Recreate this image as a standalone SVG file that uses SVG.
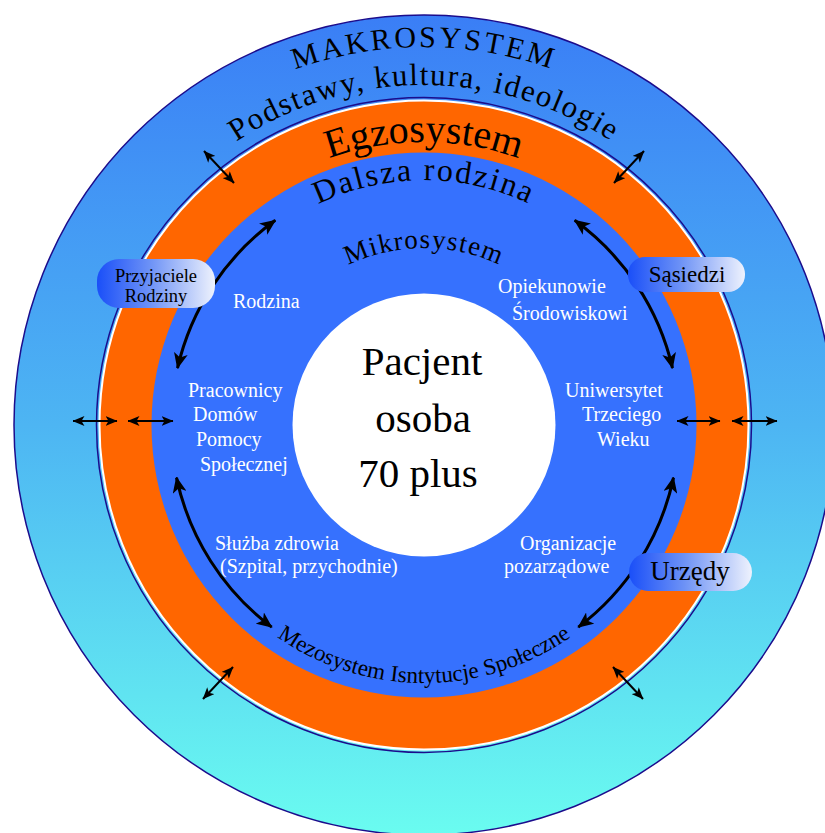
<svg xmlns="http://www.w3.org/2000/svg" width="825" height="833" viewBox="0 0 825 833">
<style>
.t{font-family:"Liberation Serif","Times New Roman",serif;}
.w{fill:#ffffff;font-size:20px;}
.k{fill:#000000;}
.arc{fill:none;stroke:#000;stroke-width:3;marker-start:url(#big);marker-end:url(#big);}
.sa{fill:none;stroke:#000;stroke-width:2;marker-start:url(#sm);marker-end:url(#sm);}
.pill{fill:url(#pillg);}
</style>
<defs>
<linearGradient id="outerg" x1="0" y1="15" x2="0" y2="835" gradientUnits="userSpaceOnUse">
<stop offset="0" stop-color="#3a7ef6"/>
<stop offset="0.5" stop-color="#4db5f3"/>
<stop offset="1" stop-color="#6afcf0"/>
</linearGradient>
<linearGradient id="pillg" x1="0" y1="0" x2="1" y2="0">
<stop offset="0" stop-color="#1a4ff8"/>
<stop offset="0.45" stop-color="#6d92f6"/>
<stop offset="1" stop-color="#eef2fd"/>
</linearGradient>
<marker id="big" viewBox="0 0 16 14" refX="15" refY="7" markerWidth="16" markerHeight="14" markerUnits="userSpaceOnUse" orient="auto-start-reverse">
<path d="M0,0 L16,7 L0,14 L4,7 z" fill="#000"/>
</marker>
<marker id="sm" viewBox="0 0 12 10" refX="11.5" refY="5" markerWidth="12" markerHeight="10" markerUnits="userSpaceOnUse" orient="auto-start-reverse">
<path d="M0,0 L12,5 L0,10 L3,5 z" fill="#000"/>
</marker>
<path id="pMakro" d="M 46 425 A 378 378 0 0 1 802 425"/>
<path id="pPod" d="M 84 425 A 340 340 0 0 1 764 425"/>
<path id="pEgz" d="M 141 425 A 283 283 0 0 1 707 425"/>
<path id="pDal" d="M 179 425 A 245 245 0 0 1 669 425"/>
<path id="pMik" d="M 247 425 A 177 177 0 0 1 601 425"/>
<path id="pMezo" d="M 166 425 A 258 258 0 0 0 682 425"/>
</defs>

<g id="makrosystem">
<circle cx="424" cy="425" r="410" fill="url(#outerg)" stroke="#1b0c8c" stroke-width="1.5"/>
<text class="t k" font-size="30" letter-spacing="3"><textPath href="#pMakro" startOffset="50%" text-anchor="middle">MAKROSYSTEM</textPath></text>
<text class="t k" font-size="31" letter-spacing="1.6"><textPath href="#pPod" startOffset="50%" text-anchor="middle">Podstawy, kultura, ideologie</textPath></text>
</g>

<g id="egzosystem">
<circle cx="424" cy="425" r="327.5" fill="none" stroke="#1b0c8c" stroke-width="1.5"/>
<circle cx="424" cy="425" r="324.5" fill="#ff6600" stroke="#ffffff" stroke-width="2"/>
<text class="t k" font-size="40"><textPath href="#pEgz" startOffset="50%" text-anchor="middle">Egzosystem</textPath></text>
</g>

<g id="mikrosystem">
<circle cx="424" cy="425" r="272.5" fill="#3671fe"/>
<text class="t k" font-size="32" letter-spacing="2"><textPath href="#pDal" startOffset="50%" text-anchor="middle">Dalsza rodzina</textPath></text>
<text class="t k" font-size="27" letter-spacing="1.3"><textPath href="#pMik" startOffset="50%" text-anchor="middle">Mikrosystem</textPath></text>
<text class="t k" font-size="23"><textPath href="#pMezo" startOffset="50%" text-anchor="middle">Mezosystem Isntytucje Społeczne</textPath></text>
</g>

<g id="pacjent">
<circle cx="424" cy="425" r="131.5" fill="#ffffff"/>
<text class="t k" font-size="41" text-anchor="middle"><tspan x="422" y="375">Pacjent</tspan><tspan x="423" y="432">osoba</tspan><tspan x="418" y="487">70 plus</tspan></text>
</g>

<g id="rodzina"><text class="t w" x="233" y="308">Rodzina</text></g>
<g id="pracownicy"><text class="t w"><tspan x="188" y="397">Pracownicy</tspan><tspan x="193" y="421">Domów</tspan><tspan x="196" y="446">Pomocy</tspan><tspan x="200" y="471">Społecznej</tspan></text></g>
<g id="opiekunowie"><text class="t w"><tspan x="498" y="293">Opiekunowie</tspan><tspan x="512" y="320">Środowiskowi</tspan></text></g>
<g id="uniwersytet"><text class="t w"><tspan x="565" y="397">Uniwersytet</tspan><tspan x="582" y="421">Trzeciego</tspan><tspan x="597" y="446">Wieku</tspan></text></g>
<g id="sluzba"><text class="t w"><tspan x="215" y="550">Służba zdrowia</tspan><tspan x="220" y="573">(Szpital, przychodnie)</tspan></text></g>
<g id="organizacje"><text class="t w"><tspan x="520" y="550">Organizacje</tspan><tspan x="504" y="573">pozarządowe</tspan></text></g>

<g id="connectors">
<path class="arc" d="M 177.5 368.1 A 253 253 0 0 1 275.3 220.3"/>
<path class="arc" d="M 574.7 220.3 A 253 253 0 0 1 672.5 368.1"/>
<path class="arc" d="M 176.5 477.6 A 253 253 0 0 0 271.7 627.1"/>
<path class="arc" d="M 673.5 477.6 A 253 253 0 0 1 578.3 627.1"/>
<line class="sa" x1="73" y1="421" x2="117" y2="421"/>
<line class="sa" x1="128" y1="421" x2="173" y2="421"/>
<line class="sa" x1="677" y1="421" x2="720" y2="421"/>
<line class="sa" x1="732" y1="421" x2="777" y2="421"/>
<line class="sa" x1="204" y1="151" x2="234" y2="183"/>
<line class="sa" x1="644" y1="151" x2="614" y2="183"/>
<line class="sa" x1="233" y1="667" x2="203" y2="699"/>
<line class="sa" x1="613" y1="667" x2="643" y2="699"/>
</g>

<g id="przyjaciele">
<rect class="pill" x="97" y="259" width="118" height="49" rx="22"/>
<text class="t k" font-size="18.5" text-anchor="middle"><tspan x="156" y="282">Przyjaciele</tspan><tspan x="156" y="302">Rodziny</tspan></text>
</g>
<g id="sasiedzi">
<rect class="pill" x="628" y="257" width="117" height="35" rx="17"/>
<text class="t k" font-size="23" text-anchor="middle" x="687" y="282">Sąsiedzi</text>
</g>
<g id="urzedy">
<rect class="pill" x="629" y="553" width="123" height="38" rx="19"/>
<text class="t k" font-size="27" text-anchor="middle" x="690" y="580">Urzędy</text>
</g>
</svg>
